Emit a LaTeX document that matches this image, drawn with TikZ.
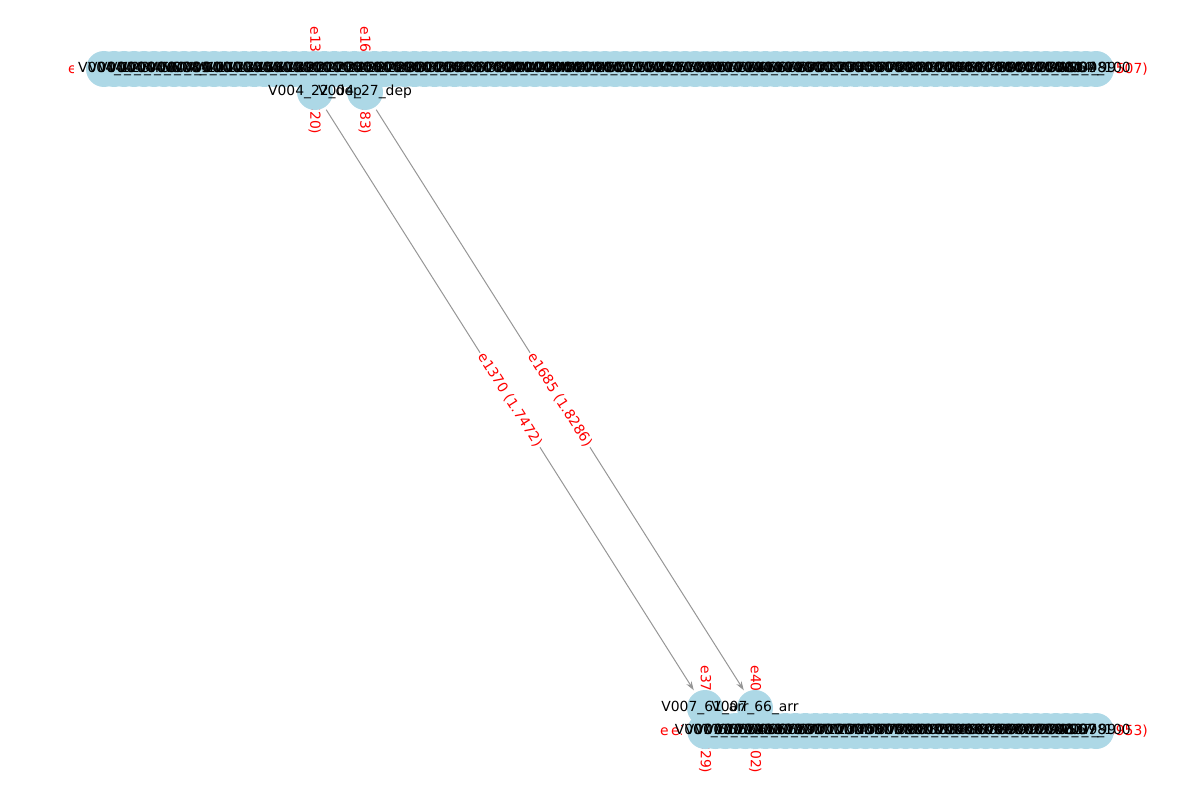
\documentclass[tikz,border=0pt]{standalone}
\usepackage{fontspec}
\setmainfont{DejaVu Sans}
\usetikzlibrary{arrows.meta,calc}
\pgfdeclarelayer{bg}
\pgfsetlayers{bg,main}
\definecolor{nodeblue}{RGB}{173,216,230}
\definecolor{edgegray}{RGB}{150,150,150}
\begin{document}
\begin{tikzpicture}[x=1pt,y=-1pt,
  dot/.style={circle,fill=nodeblue,minimum size=36pt,inner sep=0pt,outer sep=3pt},
  nlabel/.style={font=\fontsize{13.9}{16}\selectfont,inner sep=0pt,text=black},
  elabel/.style={font=\fontsize{13.9}{16}\selectfont,text=red,fill=white,rounded corners=3pt,inner sep=2pt},
  edge/.style={draw=edgegray,line width=1pt,-{Stealth[length=9pt,width=6pt]}}]
\useasboundingbox (0,0) rectangle (1200,800);
% circles
\foreach \i in {1,...,100} \node[dot] (t\i) at ({104+(\i-1)*10.02},69) {};
\foreach \i in {61,...,100} \node[dot] (b\i) at ({104+(\i-1)*10.02},731) {};
\node[dot] (d22) at (315,92) {};
\node[dot] (d27) at (365,92) {};
\node[dot] (a61) at (705,708) {};
\node[dot] (a66) at (755,708) {};
% edges and edge labels underneath
\begin{pgfonlayer}{bg}
\draw[edge] (d22) -- (a61);
\draw[edge] (d27) -- (a66);
\node[elabel,rotate=-57.66] at ($(d22)!0.5!(a61)$) {e1370 (1.7472)};
\node[elabel,rotate=-57.66] at ($(d27)!0.5!(a66)$) {e1685 (1.8286)};
\node[elabel,rotate=-90] at ($(t22)!0.5!(d22)$) {e1372 (1.6620)};
\node[elabel,rotate=-90] at ($(t27)!0.5!(d27)$) {e1687 (1.5583)};
\node[elabel,rotate=-90] at ($(a61)!0.5!(b61)$) {e3701 (1.2329)};
\node[elabel,rotate=-90] at ($(a66)!0.5!(b66)$) {e4012 (1.4402)};
\begin{scope}
\clip (0,40) rectangle (73,100);
\node[elabel,anchor=west] (lt) at (66,69) {e1002 (1.1234)};
\end{scope}
\node[elabel,anchor=east] (rt) at (1150,69) {e1999 (1.3507)};
\begin{scope}
\clip (600,700) rectangle (669,760);
\node[elabel,anchor=west] (lb1) at (658,731) {e3702 (1.2211)};
\end{scope}
\begin{scope}
\clip (669,700) rectangle (681,760);
\node[elabel,anchor=west] (lb2) at (669,731) {e3703 (1.3312)};
\end{scope}
\node[elabel,anchor=east] (rb) at (1150,731) {e4999 (1.8953)};
\end{pgfonlayer}
% node labels on top
\foreach \i in {1,...,100} \node[nlabel] at (t\i) {V004\_\i};
\foreach \i in {61,...,100} \node[nlabel] at (b\i) {V007\_\i};
\node[nlabel] at (d22) {V004\_22\_dep};
\node[nlabel] at (d27) {V004\_27\_dep};
\node[nlabel] at (a61) {V007\_61\_arr};
\node[nlabel] at (a66) {V007\_66\_arr};
\end{tikzpicture}
\end{document}
